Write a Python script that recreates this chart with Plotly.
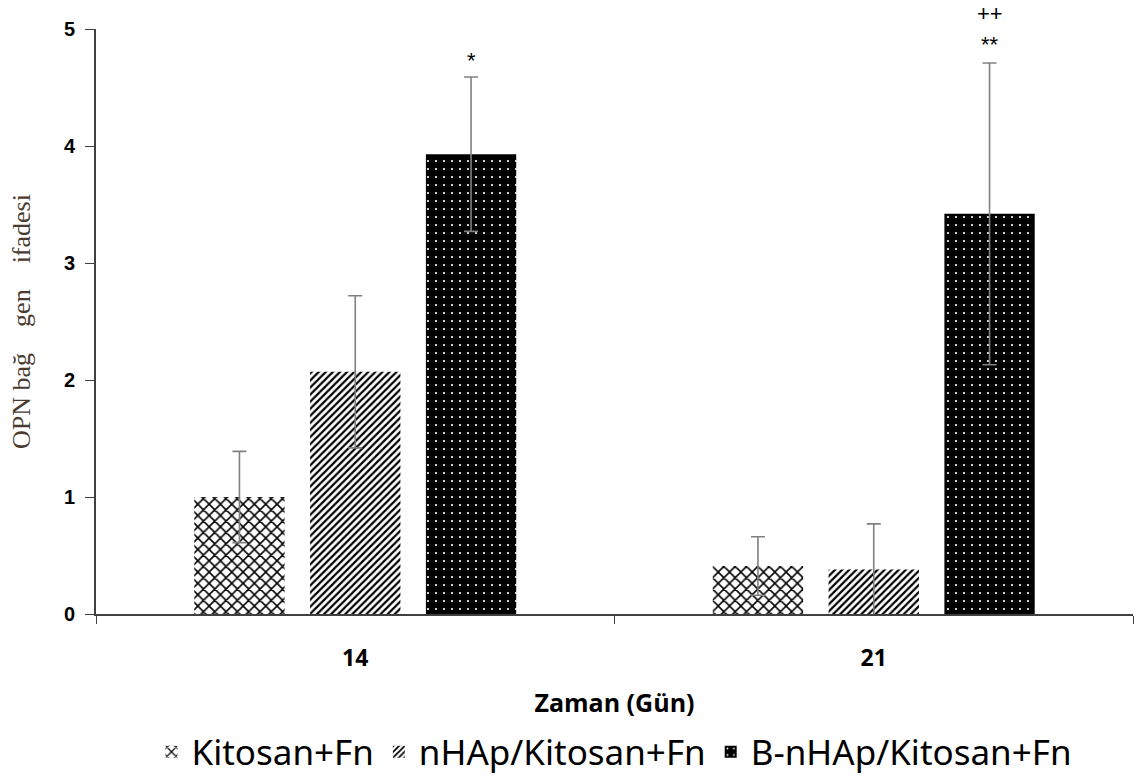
import plotly.graph_objects as go

# Days of measurement
days = ["14", "21"]

# OPN gene expression (mean) and standard deviation for each group
kitosan_mean = [1.00, 0.41]
kitosan_sd = [0.39, 0.25]
nhap_mean = [2.07, 0.38]
nhap_sd = [0.65, 0.39]
bnhap_mean = [3.93, 3.42]
bnhap_sd = [0.66, 1.29]

series_names = ["Kitosan+Fn", "nHAp/Kitosan+Fn", "B-nHAp/Kitosan+Fn"]

# Significance marks placed above the B-nHAp bars (day index on the category axis);
# a mark with a line offset is stacked above the previous one
sig_labels = ["*", "**", "++"]
sig_day_index = [0, 1, 1]
sig_levels = [4.73, 4.87, 4.87]
sig_line = [0, 0, 1]

err_style = dict(type="data", visible=True, color="#808080", thickness=1.6, width=7)

fig = go.Figure()
fig.add_trace(go.Bar(
    x=days, y=kitosan_mean, name=series_names[0],
    error_y=dict(array=kitosan_sd, **err_style),
    marker=dict(color="white", line=dict(width=0),
                pattern=dict(shape="x", fgcolor="black", bgcolor="white",
                             fgopacity=1, size=8, solidity=0.35)),
))
fig.add_trace(go.Bar(
    x=days, y=nhap_mean, name=series_names[1],
    error_y=dict(array=nhap_sd, **err_style),
    marker=dict(color="white", line=dict(width=0),
                pattern=dict(shape="/", fgcolor="black", bgcolor="white",
                             fgopacity=1, size=5, solidity=0.45)),
))
fig.add_trace(go.Bar(
    x=days, y=bnhap_mean, name=series_names[2],
    error_y=dict(array=bnhap_sd, **err_style),
    marker=dict(color="black", line=dict(width=0),
                pattern=dict(shape=".", fgcolor="white", bgcolor="black",
                             fgopacity=1, size=8, solidity=0.06)),
))

for lab, d, lvl, ln in zip(sig_labels, sig_day_index, sig_levels, sig_line):
    fig.add_annotation(x=d, y=lvl, xref="x", yref="y", text=lab,
                       showarrow=False, xshift=116, yshift=31 * ln,
                       font=dict(family="Liberation Sans", size=22, color="black"))

fig.update_layout(
    width=1137, height=778,
    margin=dict(l=96, r=4, t=29, b=164, autoexpand=False),
    paper_bgcolor="white", plot_bgcolor="white",
    barmode="group", bargap=0.33, bargroupgap=0.22,
    showlegend=True,
    legend=dict(orientation="h", x=0.5, xanchor="center", y=-0.236, yanchor="middle",
                font=dict(family="Noto Sans", size=35, color="black"),
                itemwidth=30, tracegroupgap=0, itemsizing="constant"),
    xaxis=dict(
        type="category", range=[-0.5, 1.5],
        showline=True, linecolor="#404040", linewidth=2,
        ticks="outside", tickson="boundaries", ticklen=8, tickcolor="#404040",
        ticklabelstandoff=22,
        tickfont=dict(family="Open Sans", size=23, color="black", weight="bold"),
        title=dict(text="Zaman (Gün)", standoff=23,
                   font=dict(family="Open Sans", size=25, color="black", weight="bold")),
        showgrid=False,
    ),
    yaxis=dict(
        range=[0, 5], dtick=1,
        showline=True, linecolor="#404040", linewidth=2,
        ticks="outside", ticklen=9, tickcolor="#404040",
        ticklabelstandoff=6,
        tickfont=dict(family="Liberation Sans", size=20, color="black", weight="bold"),
        title=dict(text="OPN bağ\u00a0\u00a0\u00a0 gen\u00a0\u00a0\u00a0 ifadesi", standoff=26,
                   font=dict(family="Liberation Serif", size=26, color="#4a3b30")),
        showgrid=False, zeroline=False,
    ),
)

fig.write_html("out.html")
